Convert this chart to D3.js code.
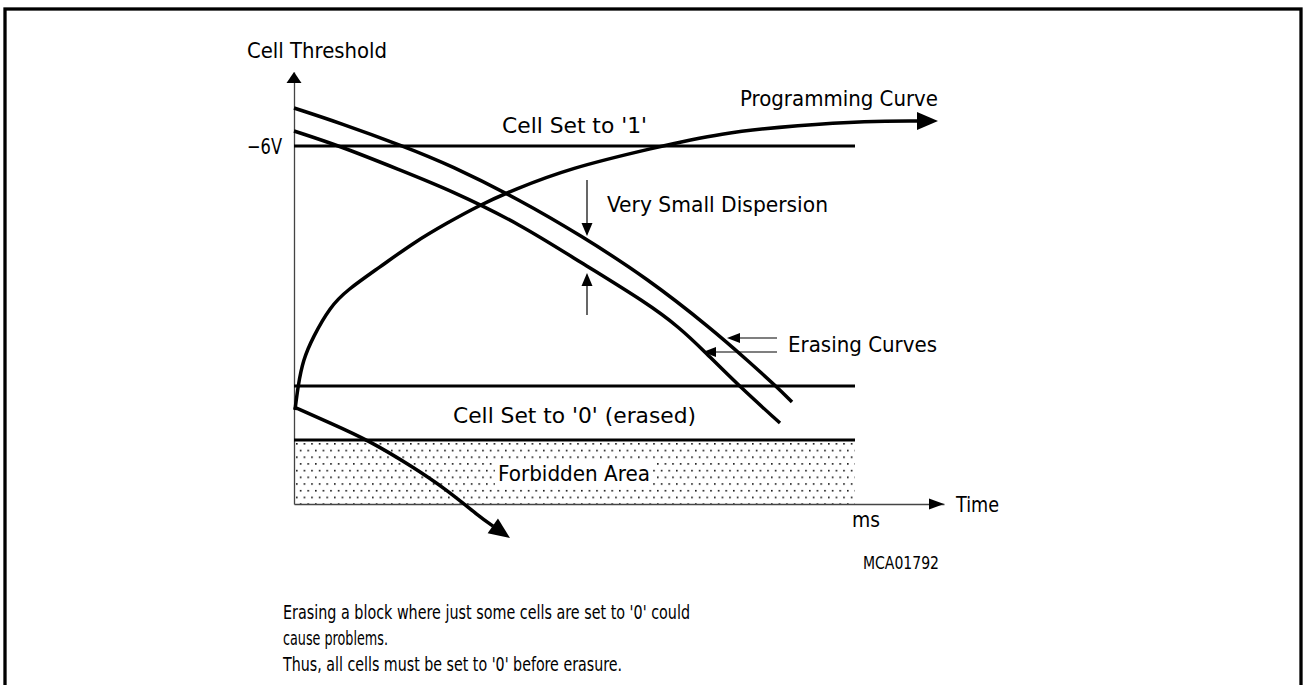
<!DOCTYPE html>
<html>
<head>
<meta charset="utf-8">
<script src="https://cdn.jsdelivr.net/npm/d3@7"></script>
<style>
  html, body { margin: 0; padding: 0; background: #fff; }
  svg { display: block; }
</style>
</head>
<body>
<svg id="chart" width="1304" height="685"></svg>
<script>
// ---------- data (time units, threshold units) ----------
const erasingUpperT = [0, 46, 109, 156, 226, 286, 353, 419, 453, 483, 498];
const erasingUpperV = [396, 381, 358, 339, 304, 269, 226, 174, 144, 117, 102];
const erasingLowerT = [0, 46, 106, 156, 226, 286, 353, 386, 409, 446, 486];
const erasingLowerV = [373, 358, 334, 314, 280, 242, 201, 176, 154, 117, 81];
const programmingT = [1, 4, 9, 19, 36, 53, 86, 119, 153, 186, 219, 276, 359, 426, 506, 573, 644];
const programmingV = [94, 118, 144, 167, 197, 214, 237, 261, 281, 299, 314, 336, 356, 371, 379, 383, 383];
const overEraseT = [0, 36, 74, 119, 153, 186, 216];
const overEraseV = [97, 81, 64, 37, 14, -13, -34];
const levelValues = [358, 118, 64];          // Cell Set to '1' (-6V), Cell Set to '0' upper, lower
const levelEndT = 561;
const forbiddenRange = [0, 64];
const yTickValues = [358];
const yTickLabels = ["\u22126V"];
const notes = [
  "Erasing a block where just some cells are set to '0' could",
  "cause problems.",
  "Thus, all cells must be set to '0' before erasure."
];

// ---------- setup ----------
const FONT = "'Liberation Sans Narrow','DejaVu Sans Condensed','Arial Narrow',sans-serif";
const svg = d3.select("#chart");
const x = d3.scaleLinear().domain([0, 650]).range([294, 944]);
const y = d3.scaleLinear().domain([0, 432]).range([504, 72]);

// frame
svg.append("rect").attr("x", 5).attr("y", 9).attr("width", 1296).attr("height", 700)
  .attr("fill", "none").attr("stroke", "#000").attr("stroke-width", 3.3);

// pattern for forbidden area
const defs = svg.append("defs");
const pat = defs.append("pattern").attr("id", "dots").attr("patternUnits", "userSpaceOnUse")
  .attr("x", x(0) + 2).attr("y", y(forbiddenRange[1]) + 3).attr("width", 7.6).attr("height", 13.4);
pat.append("rect").attr("x", 0).attr("y", 0).attr("width", 1.6).attr("height", 1.6).attr("fill", "#111");
pat.append("rect").attr("x", 3.8).attr("y", 6.7).attr("width", 1.6).attr("height", 1.6).attr("fill", "#111");

svg.append("rect")
  .attr("x", x(0)).attr("y", y(forbiddenRange[1]))
  .attr("width", x(levelEndT) - x(0)).attr("height", y(forbiddenRange[0]) - y(forbiddenRange[1]))
  .attr("fill", "url(#dots)");

function addText(g, str, px, py, width, size, anchor, weight) {
  const t = g.append("text").attr("x", px).attr("y", py)
    .attr("font-family", FONT).attr("font-size", size)
    .attr("font-weight", weight || "normal")
    .attr("text-anchor", anchor || "start").attr("fill", "#000").text(str);
  if (width) t.attr("textLength", width).attr("lengthAdjust", "spacingAndGlyphs");
  return t;
}

// Forbidden Area label with white backdrop
const fa = addText(svg, "Forbidden Area", x(204), y(23), 152, 20.5);
const bb = fa.node().getBBox();
svg.insert("rect", "text").attr("x", bb.x - 3).attr("y", bb.y + 1).attr("width", bb.width + 6)
  .attr("height", bb.height).attr("fill", "#fff");

// axes
const axisColor = "#444";
const yAxis = svg.append("g").attr("transform", `translate(${x(0)},0)`)
  .call(d3.axisLeft(y).tickValues(yTickValues).tickFormat((d, i) => yTickLabels[i])
    .tickSize(0).tickSizeOuter(0).tickPadding(12));
yAxis.select(".domain").attr("stroke", axisColor).attr("stroke-width", 1.3);
yAxis.selectAll("text").attr("font-family", FONT).attr("font-size", 21).attr("fill", "#000")
  .attr("dy", "0.36em").attr("textLength", 35).attr("lengthAdjust", "spacingAndGlyphs");

const xAxis = svg.append("g").attr("transform", `translate(0,${y(0)})`)
  .call(d3.axisBottom(x).tickValues([]).tickSizeOuter(0));
xAxis.select(".domain").attr("stroke", axisColor).attr("stroke-width", 1.3);

function arrowHead(tip, dir, len, half) {
  const [tx, ty] = tip;
  const n = Math.hypot(dir[0], dir[1]);
  const ux = dir[0] / n, uy = dir[1] / n;
  const bx = tx - ux * len, by = ty - uy * len;
  return [[tx, ty], [bx - uy * half, by + ux * half], [bx + uy * half, by - ux * half]];
}
function drawHead(pts, fill) {
  svg.append("path").attr("d", "M" + pts.map(p => p.join(",")).join("L") + "Z")
    .attr("fill", fill || "#000").attr("stroke", "none");
}
// axis arrowheads
drawHead(arrowHead([x(0), y(432)], [0, -1], 11, 7.5));
drawHead(arrowHead([x(650), y(0)], [1, 0], 15, 5.5));

// horizontal level lines
svg.selectAll("line.level").data(levelValues).join("line").attr("class", "level")
  .attr("x1", x(0)).attr("x2", x(levelEndT))
  .attr("y1", d => y(d)).attr("y2", d => y(d))
  .attr("stroke", "#000").attr("stroke-width", 3);

// curves
const line = d3.line().x(d => x(d[0])).y(d => y(d[1])).curve(d3.curveBasis);
function zip(a, b) { return a.map((v, i) => [v, b[i]]); }
function drawCurve(pts, withArrow) {
  if (withArrow) {
    const n = pts.length;
    const tip = [x(pts[n - 1][0]), y(pts[n - 1][1])];
    const prev = [x(pts[n - 2][0]), y(pts[n - 2][1])];
    const dir = [tip[0] - prev[0], tip[1] - prev[1]];
    const head = arrowHead(tip, dir, 21, 9);
    const base = [(head[1][0] + head[2][0]) / 2, (head[1][1] + head[2][1]) / 2];
    const shortened = pts.slice(0, n - 1).concat([[x.invert(base[0] + 0.01 * dir[0]), y.invert(base[1] + 0.01 * dir[1])]]);
    svg.append("path").attr("d", line(shortened)).attr("fill", "none")
      .attr("stroke", "#000").attr("stroke-width", 3.5);
    drawHead(head);
  } else {
    svg.append("path").attr("d", line(pts)).attr("fill", "none")
      .attr("stroke", "#000").attr("stroke-width", 3.5);
  }
}
drawCurve(zip(erasingUpperT, erasingUpperV), false);
drawCurve(zip(erasingLowerT, erasingLowerV), false);
drawCurve(zip(programmingT, programmingV), true);
drawCurve(zip(overEraseT, overEraseV), true);

// dispersion arrows
const dispT = 293;
svg.append("line").attr("x1", x(dispT)).attr("x2", x(dispT)).attr("y1", y(324)).attr("y2", y(275))
  .attr("stroke", "#000").attr("stroke-width", 1.2);
drawHead(arrowHead([x(dispT), y(268)], [0, 1], 13, 5.5));
svg.append("line").attr("x1", x(dispT)).attr("x2", x(dispT)).attr("y1", y(189)).attr("y2", y(224))
  .attr("stroke", "#000").attr("stroke-width", 1.2);
drawHead(arrowHead([x(dispT), y(231)], [0, -1], 13, 5.5));

// erasing curves pointer arrows
[[433, 166], [409, 152]].forEach(([t, v]) => {
  svg.append("line").attr("x1", x(483)).attr("x2", x(t) + 8).attr("y1", y(v)).attr("y2", y(v))
    .attr("stroke", "#000").attr("stroke-width", 1.2);
  drawHead(arrowHead([x(t), y(v)], [-1, 0], 13, 5));
});

// labels
addText(svg, "Cell Threshold", x(-47), y(446), 140, 20.5);
addText(svg, "Cell Set to '1'", x(208), y(371), 145, 20.5);
addText(svg, "Programming Curve", x(446), y(398), 198, 20.5);
addText(svg, "Very Small Dispersion", x(313), y(292), 221, 20.5);
addText(svg, "Erasing Curves", x(494), y(152), 149, 20.5);
addText(svg, "Cell Set to '0' (erased)", x(159), y(81), 243, 20.5);
addText(svg, "Time", x(662), y(-8), 43, 20.5);
addText(svg, "ms", x(558), y(-23), 28, 20.5);
addText(svg, "MCA01792", x(569), y(-65), 76, 17);

// notes
const noteWidths = [407, 105, 339];
notes.forEach((s, i) => addText(svg, s, 283, 619 + i * 26, noteWidths[i], 19.5));
</script>
</body>
</html>
